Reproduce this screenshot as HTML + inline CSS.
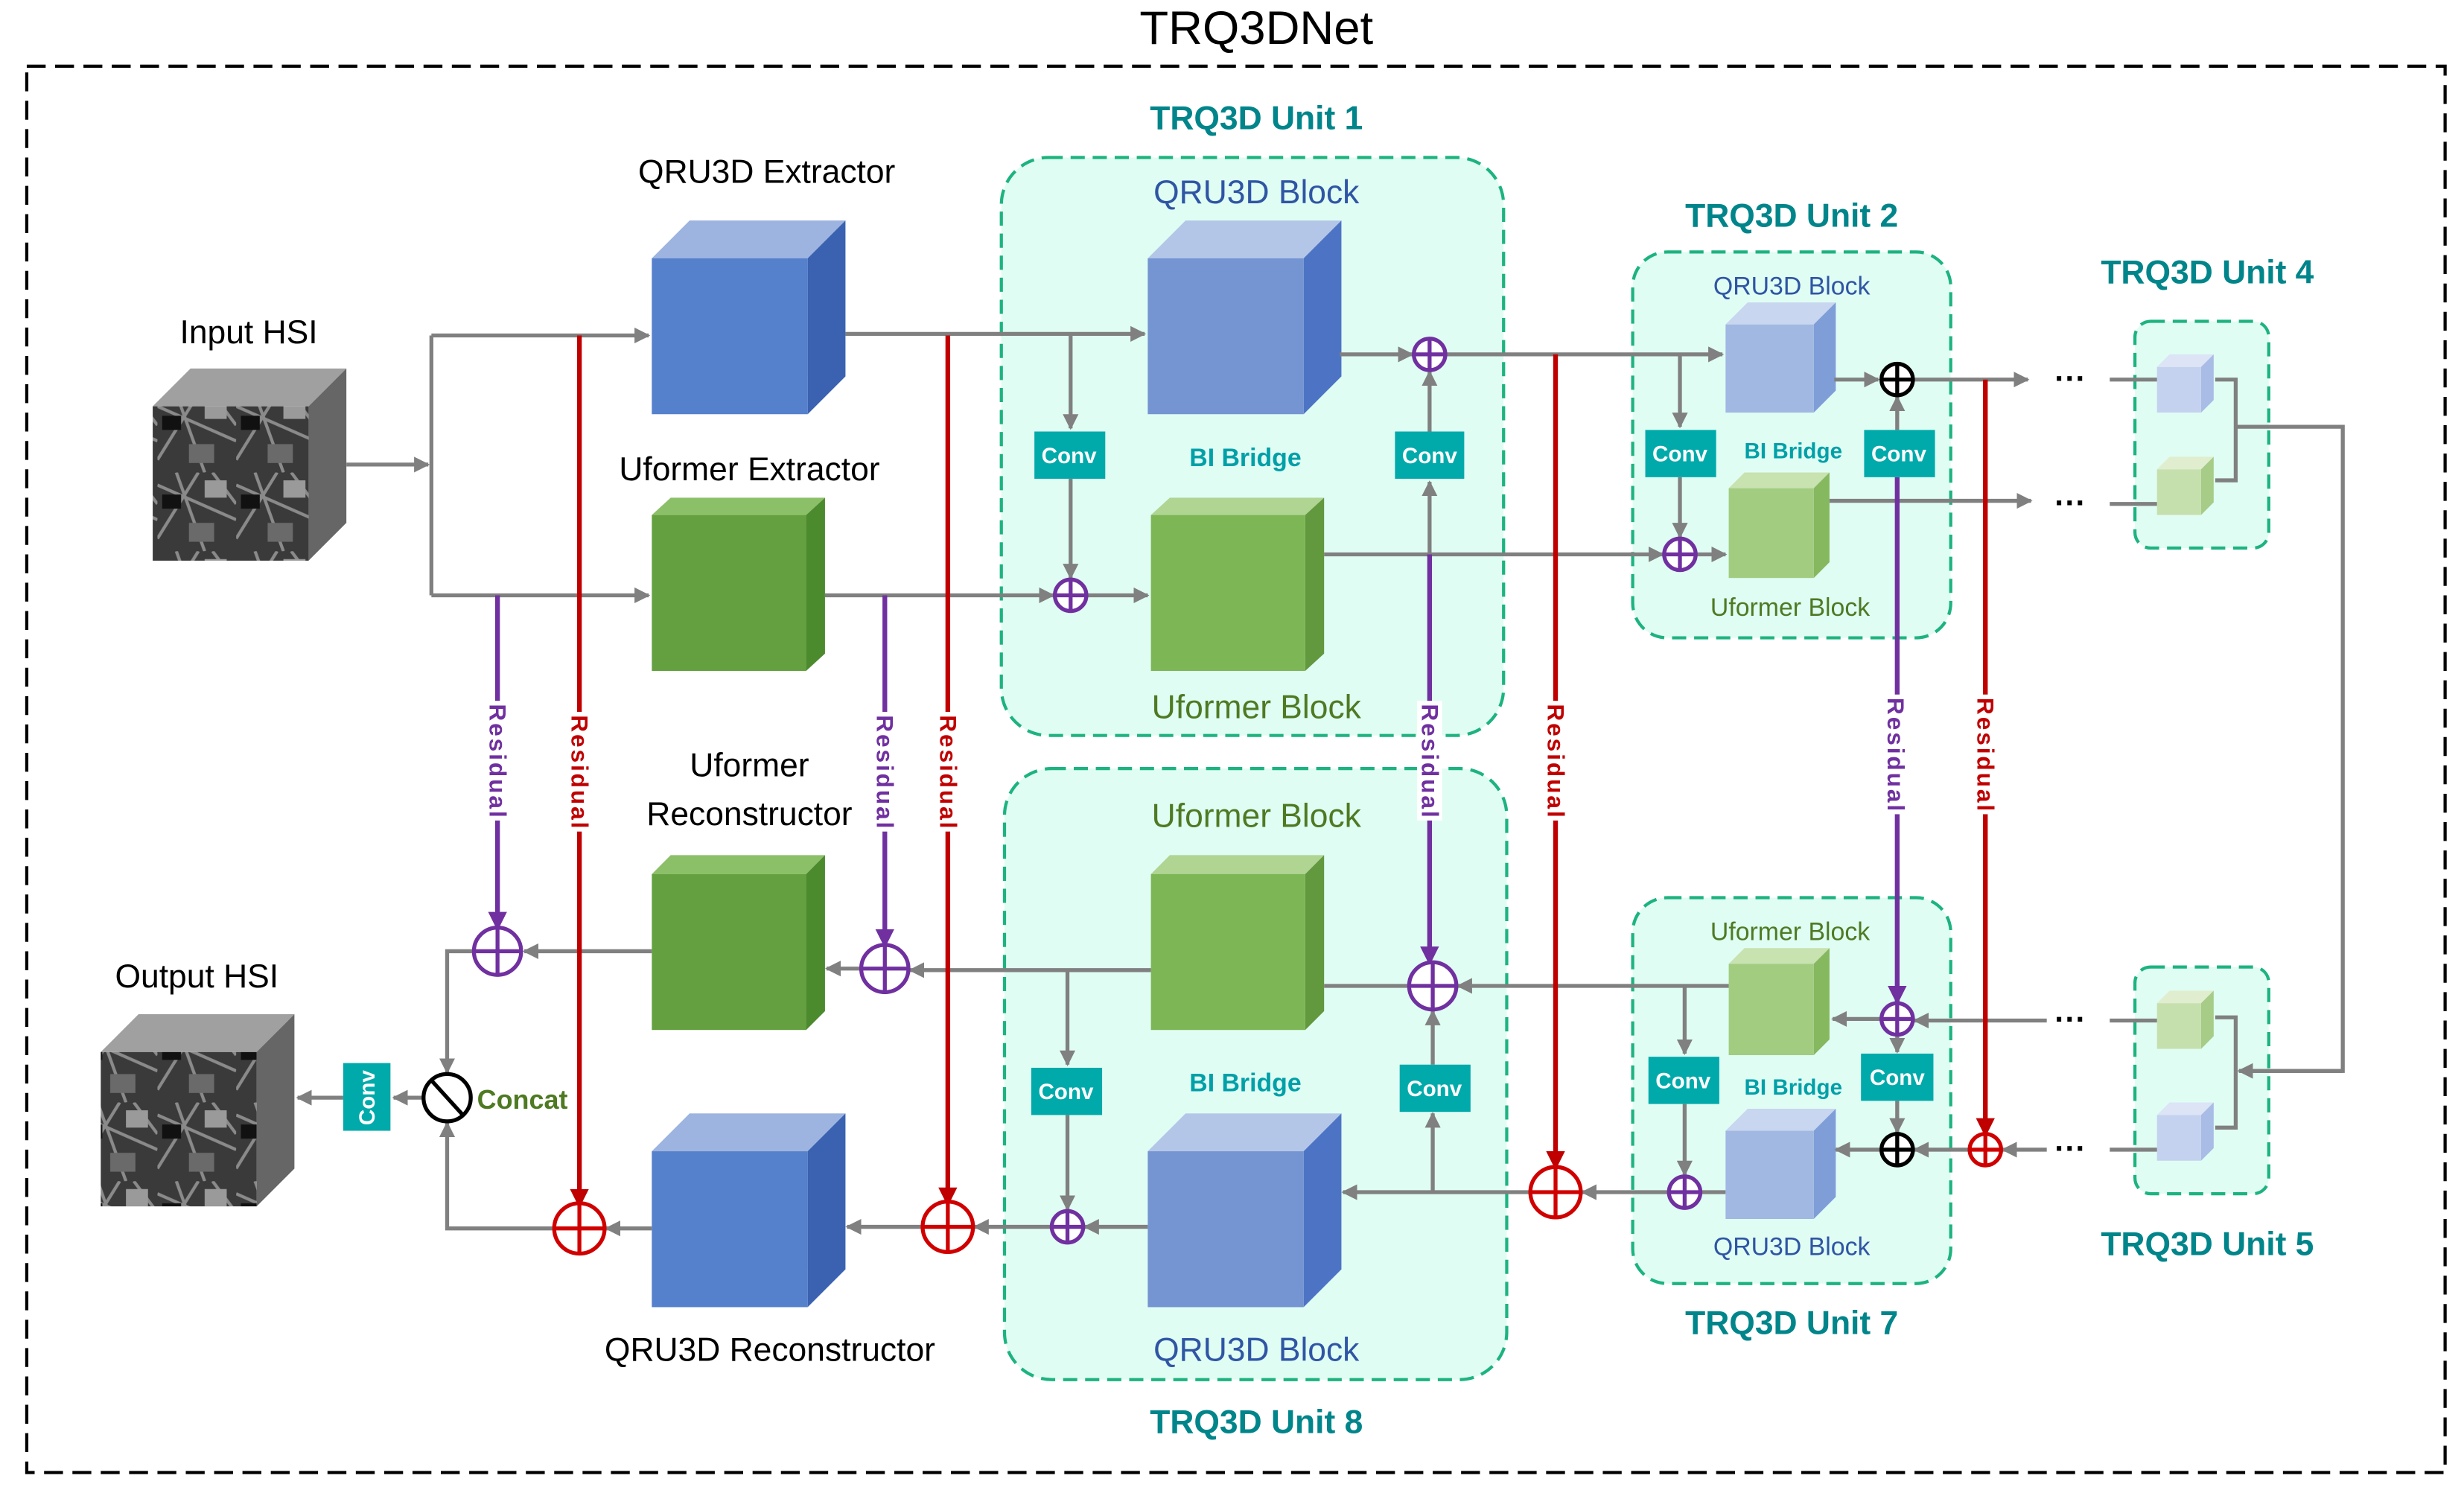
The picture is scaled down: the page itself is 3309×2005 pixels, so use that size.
<!DOCTYPE html>
<html><head><meta charset="utf-8"><style>
html,body{margin:0;padding:0;background:#fff;}
svg{display:block;}
text{font-family:"Liberation Sans",sans-serif;}
</style></head><body>
<svg width="3309" height="2005" viewBox="0 0 1565 948" preserveAspectRatio="none" xmlns="http://www.w3.org/2000/svg">
<defs>
<marker id="ag" markerWidth="10" markerHeight="10" refX="9" refY="5" orient="auto" markerUnits="userSpaceOnUse"><path d="M0,0 L10,5 L0,10 z" fill="#808080"/></marker>
<marker id="ar" markerWidth="12" markerHeight="12" refX="11" refY="6" orient="auto" markerUnits="userSpaceOnUse"><path d="M0,0 L12,6 L0,12 z" fill="#c00000"/></marker>
<marker id="ap" markerWidth="12" markerHeight="12" refX="11" refY="6" orient="auto" markerUnits="userSpaceOnUse"><path d="M0,0 L12,6 L0,12 z" fill="#7030a0"/></marker>
<pattern id="hsi" width="50" height="50" patternUnits="userSpaceOnUse"><rect width="50" height="50" fill="#3a3a3a"/><path d="M0,8 L50,30 M12,0 L30,50 M0,42 L26,0 M35,0 L50,20" stroke="#8a8a8a" stroke-width="2"/><rect x="3" y="14" width="12" height="9" fill="#111"/><rect x="30" y="5" width="14" height="11" fill="#9a9a9a"/><rect x="20" y="32" width="16" height="12" fill="#6a6a6a"/></pattern>
</defs>
<text x="798" y="28" font-size="30" text-anchor="middle">TRQ3DNet</text>
<rect x="17" y="42" width="1536" height="893" fill="none" stroke="#000" stroke-width="2" stroke-dasharray="12,6"/>

<g fill="#e0fdf4" stroke="#1db37f" stroke-width="2" stroke-dasharray="9,5">
<rect x="636" y="100" width="319" height="367" rx="30"/>
<rect x="638" y="488" width="319" height="388" rx="30"/>
<rect x="1037" y="160" width="202" height="245" rx="22"/>
<rect x="1037" y="570" width="202" height="245" rx="22"/>
<rect x="1356" y="204" width="85" height="144" rx="10"/>
<rect x="1356" y="614" width="85" height="144" rx="10"/>
</g>
<g font-size="21" font-weight="bold" fill="#00858a" text-anchor="middle">
<text x="798" y="82">TRQ3D Unit 1</text>
<text x="798" y="910">TRQ3D Unit 8</text>
<text x="1138" y="144">TRQ3D Unit 2</text>
<text x="1138" y="847">TRQ3D Unit 7</text>
<text x="1402" y="180">TRQ3D Unit 4</text>
<text x="1402" y="797">TRQ3D Unit 5</text>
</g>

<polygon points="97,258 121,234 220,234 196,258" fill="#a0a0a0"/>
<polygon points="196,258 220,234 220,332 196,356" fill="#666"/>
<rect x="97" y="258" width="99" height="98" fill="url(#hsi)"/>
<polygon points="64,668 88,644 187,644 163,668" fill="#a0a0a0"/>
<polygon points="163,668 187,644 187,742 163,766" fill="#666"/>
<rect x="64" y="668" width="99" height="98" fill="url(#hsi)"/>

<g>
<polygon points="414,164 438,140 537,140 513,164" fill="#9db3e0"/><polygon points="513,164 537,140 537,239 513,263" fill="#3a62b0"/><rect x="414" y="164" width="99" height="99" fill="#5580cc"/>
<polygon points="414,731 438,707 537,707 513,731" fill="#9db3e0"/><polygon points="513,731 537,707 537,806 513,830" fill="#3a62b0"/><rect x="414" y="731" width="99" height="99" fill="#5580cc"/>
<polygon points="729,164 753,140 852,140 828,164" fill="#b4c6e8"/><polygon points="828,164 852,140 852,239 828,263" fill="#4d74c4"/><rect x="729" y="164" width="99" height="99" fill="#7495d2"/>
<polygon points="729,731 753,707 852,707 828,731" fill="#b4c6e8"/><polygon points="828,731 852,707 852,806 828,830" fill="#4d74c4"/><rect x="729" y="731" width="99" height="99" fill="#7495d2"/>
</g>
<g>
<polygon points="414,327 426,316 524,316 512,327" fill="#8cc068"/><polygon points="512,327 524,316 524,415 512,426" fill="#4c8a2e"/><rect x="414" y="327" width="98" height="99" fill="#64a040"/>
<polygon points="414,555 426,543 524,543 512,555" fill="#8cc068"/><polygon points="512,555 524,543 524,642 512,654" fill="#4c8a2e"/><rect x="414" y="555" width="98" height="99" fill="#64a040"/>
<polygon points="731,327 743,316 841,316 829,327" fill="#b0d492"/><polygon points="829,327 841,316 841,415 829,426" fill="#62983e"/><rect x="731" y="327" width="98" height="99" fill="#7db655"/>
<polygon points="731,555 743,543 841,543 829,555" fill="#b0d492"/><polygon points="829,555 841,543 841,642 829,654" fill="#62983e"/><rect x="731" y="555" width="98" height="99" fill="#7db655"/>
</g>
<polygon points="1096,206 1110,192 1166,192 1152,206" fill="#c8d6f0"/><polygon points="1152,206 1166,192 1166,248 1152,262" fill="#7f9ed8"/><rect x="1096" y="206" width="56" height="56" fill="#a0b8e2"/>
<polygon points="1096,718 1110,704 1166,704 1152,718" fill="#c8d6f0"/><polygon points="1152,718 1166,704 1166,760 1152,774" fill="#7f9ed8"/><rect x="1096" y="718" width="56" height="56" fill="#a0b8e2"/>
<polygon points="1098,310 1108,300 1162,300 1152,310" fill="#c8e2b0"/><polygon points="1152,310 1162,300 1162,357 1152,367" fill="#86b860"/><rect x="1098" y="310" width="54" height="57" fill="#a2cc80"/>
<polygon points="1098,612 1108,602 1162,602 1152,612" fill="#c8e2b0"/><polygon points="1152,612 1162,602 1162,660 1152,670" fill="#86b860"/><rect x="1098" y="612" width="54" height="58" fill="#a2cc80"/>
<polygon points="1370,233 1378,225 1406,225 1398,233" fill="#dce4f6"/><polygon points="1398,233 1406,225 1406,254 1398,262" fill="#a8bce6"/><rect x="1370" y="233" width="28" height="29" fill="#c4d2f0"/>
<polygon points="1370,708 1378,700 1406,700 1398,708" fill="#dce4f6"/><polygon points="1398,708 1406,700 1406,729 1398,737" fill="#a8bce6"/><rect x="1370" y="708" width="28" height="29" fill="#c4d2f0"/>
<polygon points="1370,298 1378,290 1406,290 1398,298" fill="#e0eecf"/><polygon points="1398,298 1406,290 1406,319 1398,327" fill="#a6cc88"/><rect x="1370" y="298" width="28" height="29" fill="#c6e0ad"/>
<polygon points="1370,637 1378,629 1406,629 1398,637" fill="#e0eecf"/><polygon points="1398,637 1406,629 1406,658 1398,666" fill="#a6cc88"/><rect x="1370" y="637" width="28" height="29" fill="#c6e0ad"/>

<g font-size="21" text-anchor="middle">
<text x="158" y="218">Input HSI</text>
<text x="125" y="627">Output HSI</text>
<text x="487" y="116">QRU3D Extractor</text>
<text x="476" y="305">Uformer Extractor</text>
<text x="476" y="493">Uformer</text>
<text x="476" y="524">Reconstructor</text>
<text x="489" y="864">QRU3D Reconstructor</text>
<text x="798" y="129" fill="#2f55a4">QRU3D Block</text>
<text x="798" y="456" fill="#4e7a22">Uformer Block</text>
<text x="798" y="525" fill="#4e7a22">Uformer Block</text>
<text x="798" y="864" fill="#2f55a4">QRU3D Block</text>
</g>
<g font-size="16" text-anchor="middle">
<text x="1138" y="187" fill="#2f55a4">QRU3D Block</text>
<text x="1137" y="391" fill="#4e7a22">Uformer Block</text>
<text x="1137" y="597" fill="#4e7a22">Uformer Block</text>
<text x="1138" y="797" fill="#2f55a4">QRU3D Block</text>
</g>
<g font-size="16" font-weight="bold" fill="#00a0a8" text-anchor="middle">
<text x="791" y="296">BI Bridge</text>
<text x="791" y="693">BI Bridge</text>
<text x="1139" y="291" font-size="14">BI Bridge</text>
<text x="1139" y="695" font-size="14">BI Bridge</text>
</g>

<g stroke="#808080" stroke-width="2.5" fill="none">
<path d="M220,295 H272" marker-end="url(#ag)"/>
<path d="M274,213 V378"/>
<path d="M274,213 H412" marker-end="url(#ag)"/>
<path d="M274,378 H412" marker-end="url(#ag)"/>
<path d="M537,212 H727" marker-end="url(#ag)"/>
<path d="M680,212 V272" marker-end="url(#ag)"/>
<path d="M680,304 V367" marker-end="url(#ag)"/>
<path d="M524,378 H669" marker-end="url(#ag)"/>
<path d="M690,378 H729" marker-end="url(#ag)"/>
<path d="M851,225 H897" marker-end="url(#ag)"/>
<path d="M908,352 V306" marker-end="url(#ag)"/>
<path d="M908,274 V236" marker-end="url(#ag)"/>
<path d="M918,225 H1094" marker-end="url(#ag)"/>
<path d="M1067,225 V271" marker-end="url(#ag)"/>
<path d="M1067,303 V341" marker-end="url(#ag)"/>
<path d="M841,352 H1056" marker-end="url(#ag)"/>
<path d="M1077,352 H1096" marker-end="url(#ag)"/>
<path d="M1165,241 H1193" marker-end="url(#ag)"/>
<path d="M1205,273 V252" marker-end="url(#ag)"/>
<path d="M1215,241 H1288" marker-end="url(#ag)"/>
<path d="M1162,318 H1290" marker-end="url(#ag)"/>
<path d="M1340,241 H1370 M1340,320 H1370"/>
<path d="M1300,648 H1216" marker-end="url(#ag)"/>
<path d="M1195,647 H1164" marker-end="url(#ag)"/>
<path d="M1205,657 V668" marker-end="url(#ag)"/>
<path d="M1205,699 V719" marker-end="url(#ag)"/>
<path d="M1300,730 H1272" marker-end="url(#ag)"/>
<path d="M1251,730 H1216" marker-end="url(#ag)"/>
<path d="M1195,730 H1166" marker-end="url(#ag)"/>
<path d="M1340,648 H1370 M1340,730 H1370"/>
<path d="M1098,626 H926" marker-end="url(#ag)"/>
<path d="M1070,626 V669" marker-end="url(#ag)"/>
<path d="M1070,701 V746" marker-end="url(#ag)"/>
<path d="M1096,757 H1081"/>
<path d="M1060,757 H1005" marker-end="url(#ag)"/>
<path d="M972,757 H853" marker-end="url(#ag)"/>
<path d="M910,757 V707" marker-end="url(#ag)"/>
<path d="M910,676 V642" marker-end="url(#ag)"/>
<path d="M895,626 H841"/>
<path d="M731,616 H578" marker-end="url(#ag)"/>
<path d="M678,616 V676" marker-end="url(#ag)"/>
<path d="M678,708 V768" marker-end="url(#ag)"/>
<path d="M729,779 H689" marker-end="url(#ag)"/>
<path d="M668,779 H619" marker-end="url(#ag)"/>
<path d="M586,779 H538" marker-end="url(#ag)"/>
<path d="M547,615 H525" marker-end="url(#ag)"/>
<path d="M414,604 H333" marker-end="url(#ag)"/>
<path d="M301,604 H284 V681" marker-end="url(#ag)"/>
<path d="M414,780 H385" marker-end="url(#ag)"/>
<path d="M352,780 H284 V713" marker-end="url(#ag)"/>
<path d="M268,697 H250" marker-end="url(#ag)"/>
<path d="M218,697 H189" marker-end="url(#ag)"/>
<path d="M1407,241 H1420 V305 H1407 M1420,271 H1488 V680 H1423" />
<path d="M1488,680 H1422" marker-end="url(#ag)"/>
<path d="M1407,646 H1420 V716 H1407"/>
</g>
<g font-size="20" font-weight="bold" text-anchor="middle"><text x="1315" y="247">···</text><text x="1315" y="326">···</text><text x="1315" y="654">···</text><text x="1315" y="736">···</text></g>

<g stroke-width="3" fill="none">
<path d="M368,213 V766" stroke="#c00000" marker-end="url(#ar)"/>
<path d="M602,213 V765" stroke="#c00000" marker-end="url(#ar)"/>
<path d="M988,225 V742" stroke="#c00000" marker-end="url(#ar)"/>
<path d="M1261,241 V721" stroke="#c00000" marker-end="url(#ar)"/>
<path d="M316,378 V590" stroke="#7030a0" marker-end="url(#ap)"/>
<path d="M562,378 V601" stroke="#7030a0" marker-end="url(#ap)"/>
<path d="M908,352 V612" stroke="#7030a0" marker-end="url(#ap)"/>
<path d="M1205,303 V637" stroke="#7030a0" marker-end="url(#ap)"/>
</g>
<g fill="#fff">
<rect x="308" y="445" width="16" height="76"/><rect x="554" y="452" width="16" height="76"/>
<rect x="900" y="445" width="16" height="76"/><rect x="1196" y="441" width="16" height="76"/>
<rect x="360" y="452" width="16" height="76"/><rect x="594" y="452" width="16" height="76"/>
<rect x="980" y="445" width="16" height="76"/><rect x="1253" y="441" width="16" height="76"/>
</g>
<g font-size="15" font-weight="bold">
<g fill="#7030a0">
<text transform="translate(311,447) rotate(90)" textLength="72" lengthAdjust="spacing">Residual</text>
<text transform="translate(557,454) rotate(90)" textLength="72" lengthAdjust="spacing">Residual</text>
<text transform="translate(903,447) rotate(90)" textLength="72" lengthAdjust="spacing">Residual</text>
<text transform="translate(1199,443) rotate(90)" textLength="72" lengthAdjust="spacing">Residual</text>
</g>
<g fill="#c00000">
<text transform="translate(363,454) rotate(90)" textLength="72" lengthAdjust="spacing">Residual</text>
<text transform="translate(597,454) rotate(90)" textLength="72" lengthAdjust="spacing">Residual</text>
<text transform="translate(983,447) rotate(90)" textLength="72" lengthAdjust="spacing">Residual</text>
<text transform="translate(1256,443) rotate(90)" textLength="72" lengthAdjust="spacing">Residual</text>
</g>
</g>

<g fill="#00aaaa">
<rect x="657" y="274" width="45" height="30"/><rect x="886" y="274" width="44" height="30"/>
<rect x="655" y="678" width="45" height="30"/><rect x="889" y="676" width="45" height="30"/>
<rect x="1045" y="273" width="45" height="30"/><rect x="1184" y="273" width="45" height="30"/>
<rect x="1047" y="671" width="45" height="30"/><rect x="1182" y="669" width="46" height="30"/>
<rect x="218" y="675" width="30" height="43"/>
</g>
<g font-size="14" font-weight="bold" fill="#fff" text-anchor="middle">
<text x="679" y="294">Conv</text><text x="908" y="294">Conv</text>
<text x="677" y="698">Conv</text><text x="911" y="696">Conv</text>
<text x="1067" y="293">Conv</text><text x="1206" y="293">Conv</text>
<text x="1069" y="691">Conv</text><text x="1205" y="689">Conv</text>
<text transform="translate(238,697) rotate(-90)">Conv</text>
</g>

<g fill="#fff" stroke-width="2.5">
<g stroke="#7030a0">
<circle cx="680" cy="378" r="10"/><path d="M670,378 H690 M680,368 V388"/>
<circle cx="908" cy="225" r="10"/><path d="M898,225 H918 M908,215 V235"/>
<circle cx="1067" cy="352" r="10"/><path d="M1057,352 H1077 M1067,342 V362"/>
<circle cx="1205" cy="647" r="10"/><path d="M1195,647 H1215 M1205,637 V657"/>
<circle cx="1070" cy="757" r="10"/><path d="M1060,757 H1080 M1070,747 V767"/>
<circle cx="678" cy="779" r="10"/><path d="M668,779 H688 M678,769 V789"/>
<circle cx="316" cy="604" r="15"/><path d="M301,604 H331 M316,589 V619"/>
<circle cx="562" cy="615" r="15"/><path d="M547,615 H577 M562,600 V630"/>
<circle cx="910" cy="626" r="15"/><path d="M895,626 H925 M910,611 V641"/>
</g>
<g stroke="#000">
<circle cx="1205" cy="241" r="10"/><path d="M1195,241 H1215 M1205,231 V251"/>
<circle cx="1205" cy="730" r="10"/><path d="M1195,730 H1215 M1205,720 V740"/>
<circle cx="284" cy="697" r="15"/><path d="M274,686 L294,708"/>
</g>
<g stroke="#d00000">
<circle cx="1261" cy="730" r="10"/><path d="M1251,730 H1271 M1261,720 V740"/>
<circle cx="368" cy="780" r="16"/><path d="M352,780 H384 M368,764 V796"/>
<circle cx="602" cy="779" r="16"/><path d="M586,779 H618 M602,763 V795"/>
<circle cx="988" cy="757" r="16"/><path d="M972,757 H1004 M988,741 V773"/>
</g>
</g>
<text x="303" y="704" font-size="17" font-weight="bold" fill="#4e7a22">Concat</text>
</svg>
</body></html>
